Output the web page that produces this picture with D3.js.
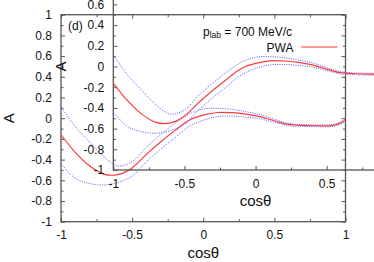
<!DOCTYPE html>
<html><head><meta charset="utf-8">
<script src="https://cdn.jsdelivr.net/npm/d3@7"></script>
<style>
body{margin:0;background:#fff;}
svg{display:block;font-family:"Liberation Sans",Arial,sans-serif;}
</style></head>
<body><svg id="c" width="374" height="262"></svg>
<script>
const cosTheta  = [-1,-0.9,-0.8,-0.7,-0.6,-0.5,-0.4,-0.3,-0.2,-0.1,0,0.1,0.2,0.3,0.4,0.5,0.6,0.7,0.8,0.9,0.95,1];
const pwa       = [-0.16,-0.33,-0.46,-0.54,-0.545,-0.48,-0.35,-0.23,-0.12,-0.02,0.03,0.055,0.053,0.04,0.015,-0.025,-0.06,-0.07,-0.073,-0.072,-0.055,-0.02];
const bandUpper = [0.11,-0.08,-0.23,-0.37,-0.46,-0.42,-0.28,-0.16,-0.05,0.04,0.09,0.095,0.085,0.063,0.035,-0.01,-0.05,-0.062,-0.065,-0.062,-0.045,-0.005];
const bandLower = [-0.44,-0.58,-0.63,-0.645,-0.62,-0.56,-0.42,-0.30,-0.19,-0.08,-0.02,0.015,0.02,0.01,-0.005,-0.04,-0.072,-0.08,-0.082,-0.083,-0.068,-0.035];
const xTicks = [-1,-0.5,0,0.5,1];
const xMinor = [-0.75,-0.25,0.25,0.75];
const yTicks = [-1,-0.8,-0.6,-0.4,-0.2,0,0.2,0.4,0.6,0.8,1];
const yMinor = [-0.9,-0.7,-0.5,-0.3,-0.1,0.1,0.3,0.5,0.7,0.9];
const fmt = d => String(d);

const svg = d3.select("#c");
const L=61, R=345.5, T=14.7, B=221.7;
const x = d3.scaleLinear().domain([-1,1]).range([L,R]);
const y = d3.scaleLinear().domain([-1,1]).range([B,T]);
const frameCol = "#555";
const redCol = "#ff3c3c";

function drawPlot(g){
  g.append("rect").attr("x",L).attr("y",T).attr("width",R-L).attr("height",B-T)
   .attr("fill","none").attr("stroke",frameCol).attr("stroke-width",1.3);
  const styleAxis = a => { a.select(".domain").remove(); a.selectAll("line").attr("stroke",frameCol).attr("stroke-width",1);
    a.selectAll("text").attr("fill","#111").attr("font-size",12).attr("font-family","Liberation Sans, Arial, sans-serif"); };
  g.append("g").attr("transform",`translate(0,${B})`)
   .call(d3.axisBottom(x).tickValues(xTicks).tickFormat(fmt).tickSize(-4).tickSizeOuter(0).tickPadding(9)).call(styleAxis);
  g.append("g").attr("transform",`translate(0,${B})`)
   .call(d3.axisBottom(x).tickValues(xMinor).tickFormat("").tickSize(-2.5).tickSizeOuter(0)).call(styleAxis);
  g.append("g").attr("transform",`translate(0,${T})`)
   .call(d3.axisTop(x).tickValues(xTicks).tickFormat("").tickSize(-4).tickSizeOuter(0)).call(styleAxis);
  g.append("g").attr("transform",`translate(0,${T})`)
   .call(d3.axisTop(x).tickValues(xMinor).tickFormat("").tickSize(-2.5).tickSizeOuter(0)).call(styleAxis);
  g.append("g").attr("transform",`translate(${L},0)`)
   .call(d3.axisLeft(y).tickValues(yTicks).tickFormat(fmt).tickSize(-4).tickSizeOuter(0).tickPadding(9)).call(styleAxis);
  g.append("g").attr("transform",`translate(${L},0)`)
   .call(d3.axisLeft(y).tickValues(yMinor).tickFormat("").tickSize(-2.5).tickSizeOuter(0)).call(styleAxis);
  g.append("g").attr("transform",`translate(${R},0)`)
   .call(d3.axisRight(y).tickValues(yTicks).tickFormat("").tickSize(-4).tickSizeOuter(0)).call(styleAxis);
  g.append("g").attr("transform",`translate(${R},0)`)
   .call(d3.axisRight(y).tickValues(yMinor).tickFormat("").tickSize(-2.5).tickSizeOuter(0)).call(styleAxis);

  g.append("text").attr("x",(L+R)/2).attr("y",258).attr("text-anchor","middle")
   .attr("font-size",15).attr("fill","#111").text("cosθ");
  g.append("text").attr("transform",`translate(14,${(T+B)/2}) rotate(-90)`).attr("text-anchor","middle")
   .attr("font-size",15).attr("fill","#111").text("A");

  const line = arr => d3.line().x((d,i)=>x(cosTheta[i])).y(d=>y(d)).curve(d3.curveCatmullRom)(arr);
  g.append("path").attr("d",line(bandUpper)).attr("fill","none").attr("stroke","#5b5bff")
   .attr("stroke-width",1).attr("stroke-dasharray","1,1.3");
  g.append("path").attr("d",line(bandLower)).attr("fill","none").attr("stroke","#5b5bff")
   .attr("stroke-width",1).attr("stroke-dasharray","1,1.3");
  g.append("path").attr("d",line(pwa)).attr("fill","none").attr("stroke",redCol).attr("stroke-width",1.2);
}

const outer = svg.append("g");
drawPlot(outer);
const inner = svg.append("g").attr("transform","translate(52.3,-51.7)");
drawPlot(inner);

outer.append("text").attr("x",68).attr("y",29.5).attr("font-size",12).attr("fill","#111").text("(d)");
const t = outer.append("text").attr("x",203).attr("y",35.5).attr("font-size",12).attr("fill","#111");
t.append("tspan").text("p");
t.append("tspan").attr("font-size",8.5).attr("dy",2).text("lab");
t.append("tspan").attr("dy",-2).text(" = 700 MeV/c");
outer.append("text").attr("x",293.5).attr("y",51.7).attr("text-anchor","end").attr("font-size",12).attr("fill","#111").text("PWA");
outer.append("line").attr("x1",301).attr("x2",337.5).attr("y1",47).attr("y2",47)
  .attr("stroke",redCol).attr("stroke-width",1.2);
</script></body></html>
